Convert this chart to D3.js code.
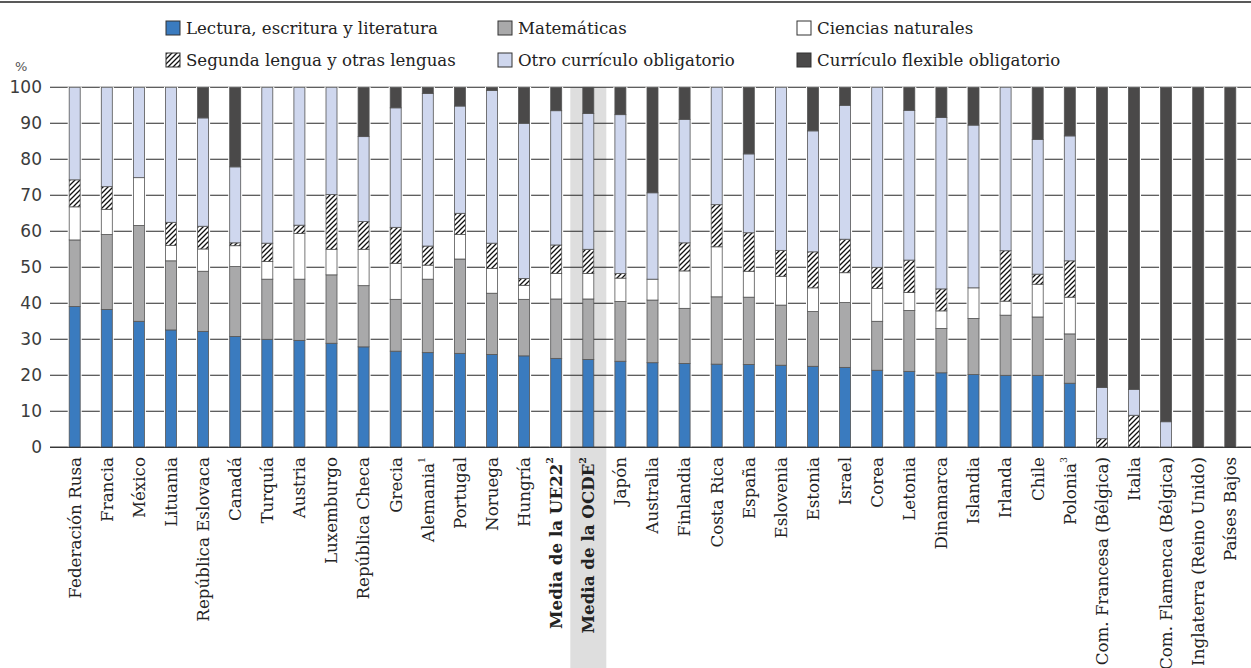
<!DOCTYPE html>
<html><head><meta charset="utf-8">
<script src="https://cdn.jsdelivr.net/npm/d3@7/dist/d3.min.js"></script>
<style>
html,body{margin:0;padding:0;background:#fff;}
svg{display:block;}
</style></head>
<body><svg id="chart" width="1251" height="668"></svg>
<script>
const categories = ["Federación Rusa","Francia","México","Lituania","República Eslovaca","Canadá","Turquía","Austria","Luxemburgo","República Checa","Grecia","Alemania","Portugal","Noruega","Hungría","Media de la UE22","Media de la OCDE","Japón","Australia","Finlandia","Costa Rica","España","Eslovenia","Estonia","Israel","Corea","Letonia","Dinamarca","Islandia","Irlanda","Chile","Polonia","Com. Francesa (Bélgica)","Italia","Com. Flamenca (Bélgica)","Inglaterra (Reino Unido)","Países Bajos"];
const superscripts = ["","","","","","","","","","","","1","","","","2","2","","","","","","","","","","","","","","","3","","","","",""];
const boldCats = ["Media de la UE22","Media de la OCDE"];
const highlightCat = "Media de la OCDE";

const lectura     = [39.1,38.3,35.0,32.6,32.2,30.8,30.0,29.7,28.9,27.9,26.7,26.3,26.1,25.8,25.4,24.7,24.4,23.9,23.5,23.3,23.1,23.0,22.8,22.5,22.2,21.4,21.1,20.7,20.2,20.0,20.0,17.8,0,0,0,0,0];
const matematicas = [18.5,20.8,26.6,19.2,16.7,19.4,16.7,17.0,19.0,17.0,14.4,20.4,26.2,17.0,15.7,16.5,16.8,16.6,17.4,15.3,18.7,18.7,16.7,15.2,18.0,13.6,16.9,12.3,15.6,16.7,16.2,13.7,0,0,0,0,0];
const ciencias    = [9.2,7.0,13.3,4.3,6.2,5.8,4.9,12.7,7.1,10.1,10.0,3.9,6.8,6.9,3.9,7.1,7.1,6.5,5.8,10.4,13.9,7.2,8.0,6.6,8.3,9.1,5.0,4.9,8.5,3.9,9.1,10.2,0,0,0,0,0];
const segunda     = [7.5,6.3,0,6.4,6.3,0.8,5.1,2.3,15.2,7.7,10.0,5.3,5.9,7.0,1.9,7.9,6.7,1.3,0,7.8,11.7,10.7,7.2,10.0,9.3,5.9,9.0,6.1,0,14.0,2.8,10.1,2.4,8.9,0,0,0];
const otro        = [25.7,27.6,25.1,37.5,30.1,21.1,43.3,38.3,29.8,23.6,33.2,42.4,29.8,42.4,43.1,37.3,37.7,44.1,24.0,34.3,32.6,21.9,45.3,33.6,37.2,50.0,41.6,47.6,45.2,45.4,37.4,34.7,14.2,7.2,7.1,0,0];
const flexible    = [0,0,0,0,8.5,22.1,0,0,0,13.7,5.7,1.7,5.2,0.9,10.0,6.5,7.3,7.6,29.3,8.9,0,18.5,0,12.1,5.0,0,6.4,8.4,10.5,0,14.5,13.5,83.4,83.9,92.9,100,100];

const seriesKeys = ["lectura","matematicas","ciencias","segunda","otro","flexible"];
const seriesNames = ["Lectura, escritura y literatura","Matemáticas","Ciencias naturales","Segunda lengua y otras lenguas","Otro currículo obligatorio","Currículo flexible obligatorio"];
const seriesValues = [lectura, matematicas, ciencias, segunda, otro, flexible];
const yTicks = [0,10,20,30,40,50,60,70,80,90,100];

const table = categories.map((c,i)=>{
  const row = {cat:c};
  seriesKeys.forEach((k,j)=>row[k]=seriesValues[j][i]);
  return row;
});

const fills = {lectura:"#3a7bbf", matematicas:"#a9a9aa", ciencias:"#ffffff", segunda:"url(#hatch)", otro:"#cfd7ee", flexible:"#4a4949"};

const svg = d3.select("#chart");
const defs = svg.append("defs");
const pat = defs.append("pattern").attr("id","hatch").attr("patternUnits","userSpaceOnUse")
  .attr("width",5).attr("height",5);
pat.append("rect").attr("width",5).attr("height",5).attr("fill","#fff");
pat.append("path").attr("d","M-1,1 l2,-2 M0,5 l5,-5 M4,6 l2,-2").attr("stroke","#111").attr("stroke-width",1.3);

const x = d3.scalePoint().domain(categories).range([74.7,1230.3]);
const y = d3.scaleLinear().domain([0,100]).range([447.3,87.3]);
const barW = 11;

// top rule
svg.append("line").attr("x1",0).attr("x2",1251).attr("y1",2).attr("y2",2).attr("stroke","#222").attr("stroke-width",1.6);

// highlight band
svg.append("rect").attr("x",x(highlightCat)-18).attr("width",36).attr("y",y(100)).attr("height",668-y(100)).attr("fill","#dedede");

// gridlines
const grid = svg.append("g");
grid.selectAll("line").data(yTicks).join("line")
  .attr("x1",50).attr("x2",1251).attr("y1",d=>y(d)).attr("y2",d=>y(d))
  .attr("stroke","#2a2a2a").attr("stroke-width",1.1);

// y axis labels
const yAxis = d3.axisLeft(y).tickValues(yTicks).tickSize(0).tickPadding(8);
const ya = svg.append("g").attr("transform","translate(50,0)").call(yAxis);
ya.select(".domain").remove();
ya.selectAll("text").attr("font-family","DejaVu Sans").attr("font-size",17).attr("fill","#3c3c3c");

svg.append("text").attr("x",15).attr("y",71).attr("font-family","DejaVu Sans").attr("font-size",13).attr("fill","#555").text("%");

// bars
const stack = d3.stack().keys(seriesKeys)(table);
// white backing
svg.append("g").selectAll("rect").data(categories.filter(c=>c!==highlightCat)).join("rect")
  .attr("x",d=>x(d)-barW/2-1.5).attr("width",barW+3).attr("y",y(100)-0.5).attr("height",y(0)-y(100)+0.5).attr("fill","#fff");
const bars = svg.append("g");
stack.forEach(layer=>{
  bars.append("g").selectAll("rect").data(layer.filter(d=>d[1]-d[0]>0.01)).join("rect")
    .attr("x",d=>x(d.data.cat)-barW/2).attr("width",barW)
    .attr("y",d=>y(d[1])).attr("height",d=>y(d[0])-y(d[1]))
    .attr("fill",fills[layer.key]).attr("stroke","#555").attr("stroke-width",0.8);
});
// zero line on top
svg.append("line").attr("x1",50).attr("x2",1251).attr("y1",y(0)).attr("y2",y(0)).attr("stroke","#2a2a2a").attr("stroke-width",1.1);

// category labels
const lab = svg.append("g");
categories.forEach((c,i)=>{
  const t = lab.append("text")
    .attr("transform",`translate(${x(c)},457) rotate(-90)`)
    .attr("text-anchor","end").attr("dy","0.35em")
    .attr("font-family","DejaVu Serif").attr("font-size",16.7).attr("fill","#222")
    .attr("font-weight",boldCats.includes(c)?"bold":"normal");
  t.append("tspan").text(c);
  if (superscripts[i]) t.append("tspan").attr("font-size",9.5).attr("dy","-0.9em").text(superscripts[i]);
});

// legend
const legendCols = [166,498,797];
const legendRows = [28,60];
seriesKeys.forEach((k,j)=>{
  const cx = legendCols[j%3], cy = legendRows[Math.floor(j/3)];
  svg.append("rect").attr("x",cx).attr("y",cy-7).attr("width",14).attr("height",14)
    .attr("fill",fills[k]).attr("stroke","#333").attr("stroke-width",1);
  svg.append("text").attr("x",cx+20).attr("y",cy).attr("dy","0.35em")
    .attr("font-family","DejaVu Serif").attr("font-size",16.6).attr("fill","#222").text(seriesNames[j]);
});
</script>
</body></html>
